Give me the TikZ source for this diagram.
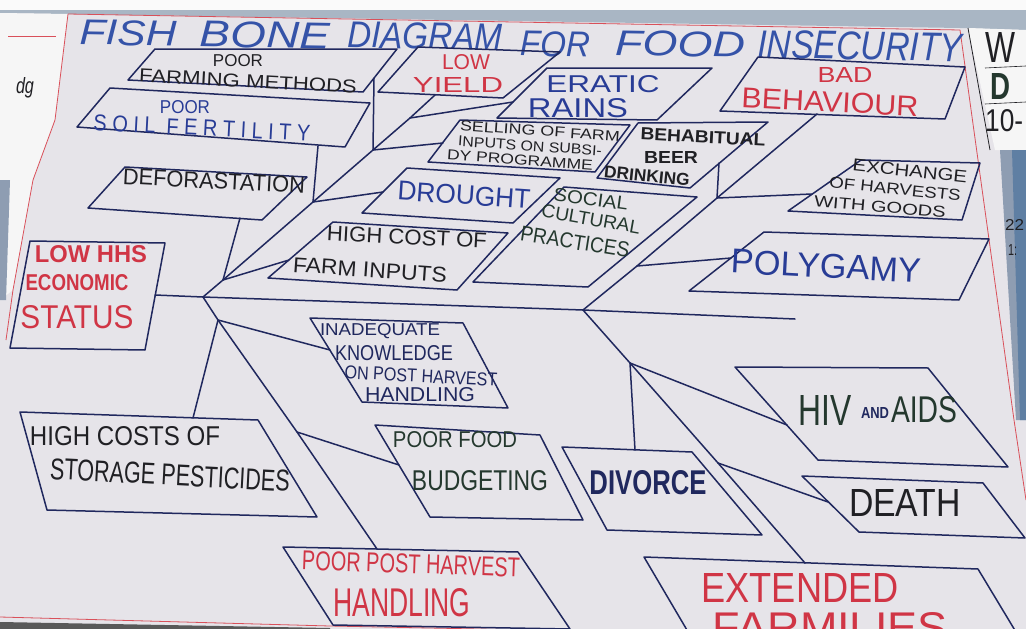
\documentclass[tikz,border=0pt]{standalone}
\usepackage{fontspec}
\usepackage{graphicx}
\newfontfamily\hand{Liberation Sans}
\newcommand{\tx}[3]{\resizebox{#1pt}{#2pt}{\hand #3}}
\newcommand{\txb}[3]{\resizebox{#1pt}{#2pt}{\hand\bfseries #3}}
\newcommand{\txi}[3]{\resizebox{#1pt}{#2pt}{\hand\itshape #3}}
\definecolor{paper}{HTML}{E6E4E9}
\definecolor{topband}{HTML}{A9B6C4}
\definecolor{lineblue}{HTML}{20285E}
\definecolor{redtxt}{HTML}{D03545}
\definecolor{bluetxt}{HTML}{283C96}
\definecolor{titleblue}{HTML}{3553A8}
\definecolor{blk}{HTML}{202024}
\definecolor{grn}{HTML}{24382E}
\definecolor{border}{HTML}{D9505A}
\definecolor{steel}{HTML}{5F7FA3}
\definecolor{steellight}{HTML}{8E9DB2}
\newcommand{\pg}[5]{%
  \coordinate (#1-tl) at (#2);
  \coordinate (#1-tr) at (#3);
  \coordinate (#1-br) at (#4);
  \coordinate (#1-bl) at (#5);
  \draw[bx] (#1-tl) -- (#1-tr) -- (#1-br) -- (#1-bl) -- cycle;}
\begin{document}
\begin{tikzpicture}[x=1pt,y=-1pt,
  bx/.style={draw=lineblue,line width=1.5pt,line join=round},
  cn/.style={draw=lineblue,line width=1.5pt,line cap=round},
  txt/.style={inner sep=0pt,anchor=center}]
\useasboundingbox (0,0) rectangle (1026,629);
\clip (0,0) rectangle (1026,629);
% ---------- background (photo surroundings) ----------
\fill[paper] (0,0) rectangle (1026,629);
\fill[white!96!gray] (0,0) rectangle (1026,10);
\fill[topband] (0,10) -- (1026,10) -- (1026,30) -- (960,28) -- (68,14) -- (0,13) -- cycle;
\fill[white!93!gray] (0,13) -- (68,14) -- (55,120) -- (33,180) -- (13,290) -- (0,300) -- cycle;
\fill[steellight] (0,180) -- (10,180) -- (6,300) -- (0,300) -- cycle;
\fill[white!93!gray] (968,28) -- (1026,30) -- (1026,150) -- (995,150) -- cycle;
\fill[steellight] (1000,150) -- (1026,150) -- (1026,420) -- (1016,420) -- cycle;
\fill[steel] (1012,150) -- (1026,150) -- (1026,420) -- (1020,420) -- cycle;
\fill[gray!70!black] (0,622) -- (330,628) -- (330,629) -- (0,629) -- cycle;
\draw[border,line width=0.8pt] (68,14) -- (960,30);
\draw[border,line width=0.8pt] (68,14) -- (55,120) -- (33,180) -- (13,290) -- (6,340);
\draw[border,line width=0.8pt] (960,30) -- (1014,420) -- (1026,500);
\draw[border,line width=0.8pt] (0,617) -- (330,626) -- (1026,640);
\draw[border,line width=0.8pt] (8,36) -- (56,36);
\draw[blk,line width=0.8pt] (968,28) -- (990,150);
\draw[blk,line width=0.6pt] (985,68) -- (1026,66);
\draw[blk,line width=0.6pt] (985,104) -- (1026,102);
\node[txt,text=blk] (dg) at (25,88) {\txi{18}{16}{dg}};
\node[txt,text=blk,anchor=west] (wo) at (985,47) {\tx{30}{30}{W}};
\node[txt,text=grn,anchor=west] (df) at (990,86) {\txb{20}{26}{D}};
\node[txt,text=blk,anchor=west] (ten) at (985,121) {\tx{38}{22}{10-}};
\node[txt,text=blk,anchor=west] (tt) at (1005,225) {\tx{19}{11}{22}};
\node[txt,text=blk,anchor=west] (one) at (1008,250) {\tx{9}{11}{1:}};
% ---------- title ----------
\node[txt,text=titleblue,rotate=-1] (t1) at (128,33) {\txi{97}{25}{FISH}};
\node[txt,text=titleblue,rotate=-1] (t2) at (265,35) {\txi{130}{26}{BONE}};
\node[txt,text=titleblue,rotate=-1] (t3) at (425,36) {\txi{155}{26}{DIAGRAM}};
\node[txt,text=titleblue,rotate=-1] (t4) at (555,44) {\txi{70}{25}{FOR}};
\node[txt,text=titleblue,rotate=-1] (t5) at (680,44) {\txi{130}{25}{FOOD}};
\node[txt,text=titleblue,rotate=-1] (t6) at (860,46) {\txi{205}{28}{INSECURITY}};
% ---------- head ----------
\pg{head}{30,241}{165,243}{145,350}{10,348}
\node[txt,text=redtxt] (h1) at (91,254) {\txb{112}{17}{LOW HHS}};
\node[txt,text=redtxt] (h2) at (77,283) {\txb{103}{16}{ECONOMIC}};
\node[txt,text=redtxt] (h3) at (77,317) {\tx{113}{23}{STATUS}};
% ---------- boxes ----------
\pg{farm}{155,49}{397,49}{363,92}{128,80}
\node[txt,text=blk] (farm1) at (238,61) {\tx{50}{12}{POOR}};
\node[txt,text=blk,rotate=-3] (farm2) at (248,81) {\tx{218}{13}{FARMING METHODS}};
\pg{soil}{110,88}{370,103}{345,147}{77,127}
\node[txt,text=bluetxt] (soil1) at (185,107) {\tx{50}{13}{POOR}};
\node[txt,text=bluetxt,rotate=-3] (soil2) at (202,128) {\tx{217}{16}{S O I L\ \ F E R T I L I T Y}};
\pg{low}{418,47}{560,52}{503,98}{378,92}
\node[txt,text=redtxt] (low1) at (466,62) {\tx{48}{15}{LOW}};
\node[txt,text=redtxt] (low2) at (458,85) {\tx{90}{15}{YIELD}};
\pg{rain}{547,68}{712,68}{657,120}{497,118}
\node[txt,text=bluetxt] (rain1) at (603,84) {\tx{113}{17}{ERATIC}};
\node[txt,text=bluetxt] (rain2) at (578,108) {\tx{100}{19}{RAINS}};
\pg{sell}{460,120}{630,125}{595,172}{428,162}
\node[txt,text=blk,rotate=-4] (sell1) at (540,131) {\tx{160}{10}{SELLING OF FARM}};
\node[txt,text=blk,rotate=-4] (sell2) at (530,146) {\tx{144}{10}{INPUTS ON SUBSI-}};
\node[txt,text=blk,rotate=-4] (sell3) at (520,160) {\tx{146}{10}{DY PROGRAMME}};
\pg{beer}{638,123}{768,122}{690,188}{597,178}
\node[txt,text=blk,rotate=-3] (beer1) at (703,137) {\txb{125}{12}{BEHABITUAL}};
\node[txt,text=blk] (beer2) at (671,157) {\txb{54}{12}{BEER}};
\node[txt,text=blk,rotate=-6] (beer3) at (647,176) {\txb{86}{12}{DRINKING}};
\pg{bad}{758,57}{965,67}{945,119}{720,111}
\node[txt,text=redtxt] (bad1) at (845,75) {\tx{55}{15}{BAD}};
\node[txt,text=redtxt,rotate=-3] (bad2) at (830,102) {\tx{177}{20}{BEHAVIOUR}};
\pg{def}{125,167}{307,177}{262,220}{88,208}
\node[txt,text=blk,rotate=-3] (def1) at (214,181) {\tx{182}{16}{DEFORASTATION}};
\pg{drought}{407,168}{560,178}{513,223}{362,213}
\node[txt,text=bluetxt,rotate=-4] (dr1) at (464,195) {\tx{133}{19}{DROUGHT}};
\pg{cost}{333,222}{508,233}{457,290}{268,278}
\node[txt,text=blk,rotate=-3] (cost1) at (407,237) {\tx{160}{15}{HIGH COST OF}};
\node[txt,text=blk,rotate=-4] (cost2) at (370,270) {\tx{154}{15}{FARM INPUTS}};
\pg{soc}{564,187}{697,197}{588,287}{473,282}
\node[txt,text=grn,rotate=-8] (soc1) at (591,199) {\tx{75}{13}{SOCIAL}};
\node[txt,text=grn,rotate=-10] (soc2) at (591,219) {\tx{100}{13}{CULTURAL}};
\node[txt,text=grn,rotate=-9] (soc3) at (575,242) {\tx{110}{15}{PRACTICES}};
\pg{exch}{861,160}{980,163}{962,220}{788,211}
\node[txt,text=blk,rotate=-6] (ex1) at (910,171) {\tx{115}{12}{EXCHANGE}};
\node[txt,text=blk,rotate=-6] (ex2) at (895,189) {\tx{132}{11}{OF HARVESTS}};
\node[txt,text=blk,rotate=-5] (ex3) at (880,207) {\tx{132}{11}{WITH GOODS}};
\pg{poly}{764,232}{989,239}{959,300}{689,291}
\node[txt,text=bluetxt,rotate=-3] (poly1) at (826,266) {\tx{190}{24}{POLYGAMY}};
\pg{know}{310,318}{463,323}{508,408}{362,402}
\node[txt,text=lineblue] (kn1) at (380,331) {\tx{120}{12}{INADEQUATE}};
\node[txt,text=lineblue] (kn2) at (394,353) {\tx{118}{15}{KNOWLEDGE}};
\node[txt,text=lineblue,rotate=-3] (kn3) at (421,376) {\tx{153}{13}{ON POST HARVEST}};
\node[txt,text=lineblue] (kn4) at (420,395) {\tx{110}{14}{HANDLING}};
\pg{stor}{20,412}{258,420}{317,517}{47,510}
\node[txt,text=blk] (st1) at (125,436) {\tx{190}{19}{HIGH COSTS OF}};
\node[txt,text=blk,rotate=-3] (st2) at (170,475) {\tx{240}{21}{STORAGE PESTICIDES}};
\pg{food}{375,425}{540,435}{583,520}{430,517}
\node[txt,text=grn] (fd1) at (455,440) {\tx{124}{16}{POOR FOOD}};
\node[txt,text=grn] (fd2) at (480,481) {\tx{136}{20}{BUDGETING}};
\pg{post}{283,547}{518,552}{570,629}{333,625}
\node[txt,text=redtxt,rotate=-2] (po1) at (411,564) {\tx{218}{19}{POOR POST HARVEST}};
\node[txt,text=redtxt] (po2) at (402,603) {\tx{137}{28}{HANDLING}};
\pg{div}{562,447}{692,452}{762,535}{607,530}
\node[txt,text=lineblue] (dv1) at (648,483) {\txb{117}{24}{DIVORCE}};
\pg{hiv}{735,367}{928,368}{1008,467}{818,460}
\node[txt,text=grn] (hv1) at (825,410) {\tx{53}{30}{HIV}};
\node[txt,text=lineblue] (hv2) at (875,413) {\txb{28}{11}{AND}};
\node[txt,text=grn] (hv3) at (924,410) {\tx{66}{26}{AIDS}};
\pg{death}{802,476}{983,483}{1025,538}{859,532}
\node[txt,text=blk] (de1) at (905,503) {\tx{112}{27}{DEATH}};
\pg{ext}{644,557}{978,569}{1022,642}{694,642}
\node[txt,text=redtxt] (ext1) at (800,588) {\tx{197}{29}{EXTENDED}};
\node[txt,text=redtxt] (ext2) at (830,628) {\tx{235}{30}{FARMILIES}};
% ---------- skeleton ----------
\coordinate (J0) at (203,297);
\coordinate (J2) at (583,310);
\coordinate (spineend) at (795,319);
\coordinate (headc) at (155,295);
\coordinate (a1) at (223,280);
\coordinate (a2) at (313,202);
\coordinate (a3) at (373,150);
\coordinate (a4) at (410,118);
\coordinate (lowc) at (435,95);
\coordinate (b1) at (218,320);
\coordinate (b2) at (297,432);
\coordinate (postc) at (377,549);
\coordinate (c1) at (637,266);
\coordinate (c2) at (717,198);
\coordinate (badc) at (817,114);
\coordinate (d1) at (630,363);
\coordinate (d2) at (718,463);
\coordinate (extc) at (805,563);
% connector end points on boxes
\coordinate (defc) at (240,218);
\coordinate (costc) at (289,260);
\coordinate (soilc) at (318,146);
\coordinate (drc) at (383,192);
\coordinate (farmc) at (374,78);
\coordinate (sellc) at (443,143);
\coordinate (rainc) at (513,102);
\coordinate (storc) at (193,418);
\coordinate (knowc) at (330,350);
\coordinate (foodc) at (399,465);
\coordinate (polyc) at (731,258);
\coordinate (beerc) at (719,163);
\coordinate (exchc) at (812,194);
\coordinate (divc) at (635,450);
\coordinate (hivc) at (787,425);
\coordinate (deathc) at (828,502);
% spine
\draw[cn] (headc) -- (J0) -- (J2) -- (spineend);
% upper-left bone
\draw[cn] (J0) -- (a1) -- (a2) -- (a3) -- (a4) -- (lowc);
\draw[cn] (a1) -- (defc);
\draw[cn] (a1) -- (costc);
\draw[cn] (a2) -- (soilc);
\draw[cn] (a2) -- (drc);
\draw[cn] (a3) -- (farmc);
\draw[cn] (a3) -- (sellc);
\draw[cn] (a4) -- (rainc);
% lower-left bone
\draw[cn] (J0) -- (b1) -- (b2) -- (postc);
\draw[cn] (b1) -- (storc);
\draw[cn] (b1) -- (knowc);
\draw[cn] (b2) -- (foodc);
% upper-right bone
\draw[cn] (J2) -- (c1) -- (c2) -- (badc);
\draw[cn] (c1) -- (polyc);
\draw[cn] (c2) -- (beerc);
\draw[cn] (c2) -- (exchc);
% lower-right bone
\draw[cn] (J2) -- (d1) -- (d2) -- (extc);
\draw[cn] (d1) -- (divc);
\draw[cn] (d1) -- (hivc);
\draw[cn] (d2) -- (deathc);
\end{tikzpicture}
\end{document}
